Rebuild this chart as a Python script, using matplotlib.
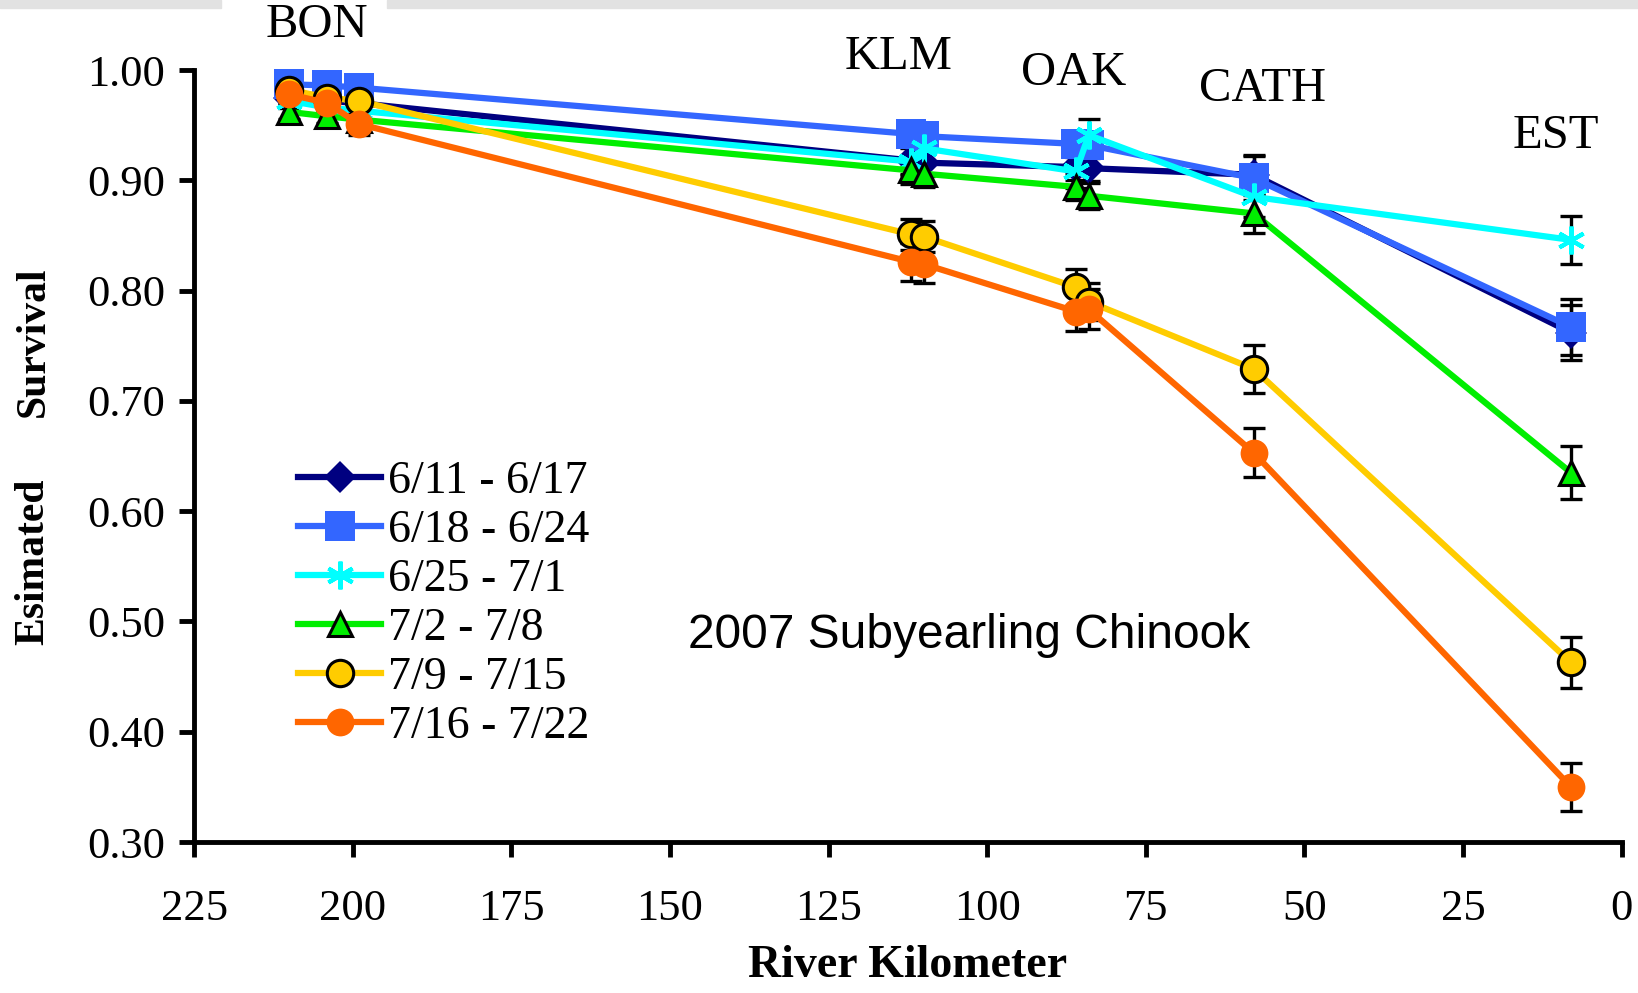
import matplotlib
matplotlib.use("Agg")
import matplotlib.pyplot as plt
from matplotlib.patches import Rectangle

# river km of each detection site (two arrays at KLM and OAK)
rkm = [210, 204, 199, 112, 110, 86, 84, 58, 8]

# release groups
groups = ['6/11 - 6/17', '6/18 - 6/24', '6/25 - 7/1', '7/2 - 7/8', '7/9 - 7/15', '7/16 - 7/22']

surv_0611 = [0.975, 0.972, 0.970, 0.918, 0.916, 0.912, 0.911, 0.905, 0.762]
surv_0618 = [0.987, 0.986, 0.984, 0.942, 0.940, 0.933, 0.932, 0.902, 0.767]
surv_0625 = [0.972, 0.966, 0.963, 0.917, 0.929, 0.908, 0.941, 0.885, 0.846]
surv_0702 = [0.962, 0.958, 0.955, 0.909, 0.906, 0.894, 0.886, 0.870, 0.635]
surv_0709 = [0.982, 0.975, 0.972, 0.851, 0.849, 0.803, 0.790, 0.729, 0.463]
surv_0716 = [0.978, 0.970, 0.951, 0.826, 0.824, 0.781, 0.783, 0.653, 0.350]

se_0611 = [0.006, 0.006, 0.006, 0.012, 0.012, 0.012, 0.012, 0.018, 0.025]
se_0618 = [0.005, 0.005, 0.005, 0.012, 0.012, 0.012, 0.012, 0.020, 0.025]
se_0625 = [0.006, 0.006, 0.006, 0.012, 0.012, 0.015, 0.015, 0.018, 0.022]
se_0702 = [0.006, 0.006, 0.006, 0.012, 0.012, 0.012, 0.012, 0.018, 0.024]
se_0709 = [0.006, 0.006, 0.006, 0.014, 0.014, 0.017, 0.017, 0.022, 0.023]
se_0716 = [0.006, 0.006, 0.010, 0.017, 0.017, 0.018, 0.018, 0.022, 0.022]

sites = ['BON', 'KLM', 'OAK', 'CATH', 'EST']
site_km = [205.7, 113.9, 86.4, 56.6, 10.4]
site_y = [1.041, 1.012, 0.997, 0.983, 0.940]

xticks = [225, 200, 175, 150, 125, 100, 75, 50, 25, 0]
yticks = [0.30, 0.40, 0.50, 0.60, 0.70, 0.80, 0.90, 1.00]

series = [
    (surv_0611, se_0611, '#000080', 'D', '#000080', '#000080', 16, 0),
    (surv_0618, se_0618, '#3366ff', 's', '#3366ff', '#3366ff', 21, 0),
    (surv_0625, se_0625, '#00ffff', '*', '#00ffff', '#00ffff', 1, 0),
    (surv_0702, se_0702, '#00ee00', '^', '#00ee00', 'black', 17, 2.2),
    (surv_0709, se_0709, '#ffcc00', 'o', '#ffcc00', 'black', 19, 2.2),
    (surv_0716, se_0716, '#ff6600', 'o', '#ff6600', '#ff6600', 20, 0),
]

serif = 'Liberation Serif'

fig = plt.figure(figsize=(16.38, 9.93), dpi=100)
ax = fig.add_axes([0.1185, 0.152, 0.8715, 0.7775])

# thin grey strip along the top edge
fig.patches.append(Rectangle((0, 0.992), 0.135, 0.008, transform=fig.transFigure,
                             color='#e2e2e2', zorder=0))
fig.patches.append(Rectangle((0.236, 0.992), 0.764, 0.008, transform=fig.transFigure,
                             color='#e2e2e2', zorder=0))

for vals, se, col, mk, fc, ec, ms, mew in series:
    ax.errorbar(rkm, vals, yerr=se, fmt='none', ecolor='black', elinewidth=2.4,
                capsize=8, capthick=2.4, zorder=2, clip_on=False)

handles = []
for (vals, se, col, mk, fc, ec, ms, mew), lab in zip(series, groups):
    if mk == '*':
        h, = ax.plot(rkm, vals, color=col, lw=4.5, marker=(6, 2, 0), ms=20,
                     mec=col, mew=3, label=lab, zorder=3, clip_on=False)
    else:
        h, = ax.plot(rkm, vals, color=col, lw=4.5, marker=mk, ms=ms, mfc=fc,
                     mec=ec, mew=mew, label=lab, zorder=3, clip_on=False)
    handles.append(h)

ax.set_xlim(225, 0)
ax.set_ylim(0.30, 1.00)
ax.set_xticks(xticks)
ax.set_yticks(yticks)
ax.set_yticklabels(['%.2f' % v for v in yticks])

for s in ['top', 'right']:
    ax.spines[s].set_visible(False)
for s in ['left', 'bottom']:
    ax.spines[s].set_linewidth(3.5)
ax.tick_params(axis='both', length=11, width=3.5, labelsize=32, direction='out')
ax.tick_params(axis='x', pad=23)
ax.tick_params(axis='y', pad=10)
for lab in ax.get_xticklabels() + ax.get_yticklabels():
    lab.set_fontfamily(serif)

for name, xk, yv in zip(sites, site_km, site_y):
    ax.text(xk, yv, name, fontsize=35, family=serif, ha='center', va='center',
            clip_on=False)

ax.text(102.9, 0.4877, '2007 Subyearling Chinook', fontsize=34.5, family='Liberation Sans',
        ha='center', va='center')

fig.text(0.0205, 0.434, 'Esimated', rotation=90, fontsize=30, family=serif,
         fontweight='bold', ha='center', va='center')
fig.text(0.0205, 0.656, 'Survival', rotation=90, fontsize=30, family=serif,
         fontweight='bold', ha='center', va='center')
ax.set_xlabel('River Kilometer', fontsize=33, family=serif, fontweight='bold', labelpad=11)

leg = ax.legend(handles=handles, loc='upper left', bbox_to_anchor=(0.0728, 0.494),
                frameon=False, prop={'family': serif, 'size': 33}, borderpad=0,
                borderaxespad=0, labelspacing=0.14, handlelength=1.81,
                handletextpad=0.15)

fig.savefig('out.png', dpi=100)
